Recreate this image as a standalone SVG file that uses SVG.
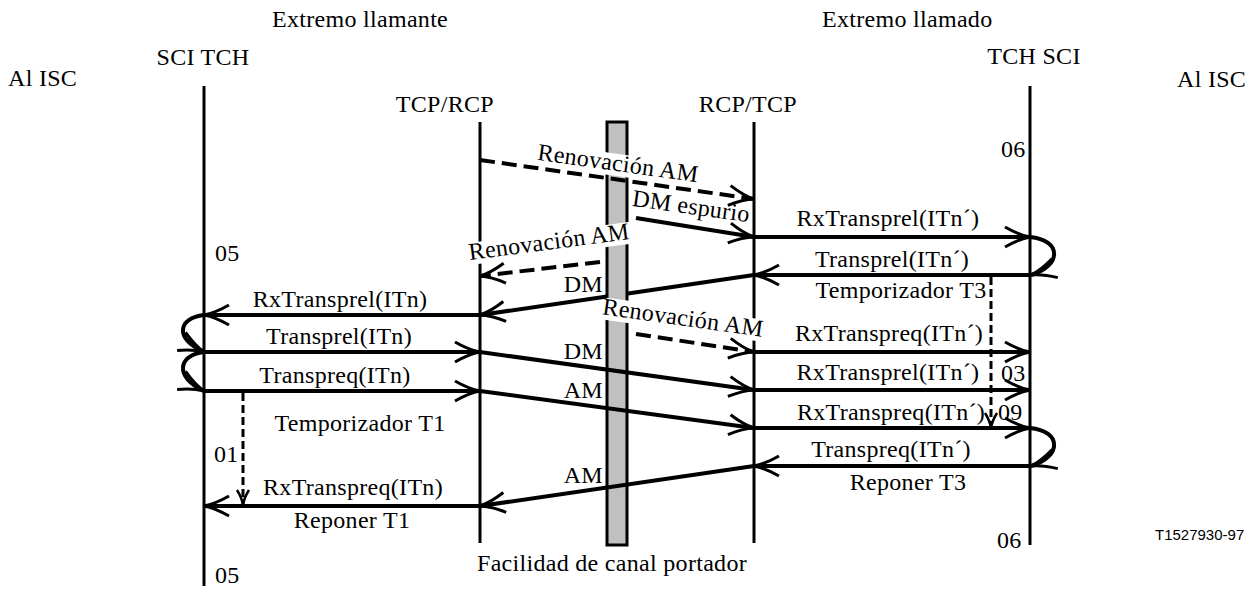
<svg xmlns="http://www.w3.org/2000/svg" width="1256" height="592" viewBox="0 0 1256 592">
<style>
text{font-family:"Liberation Serif","Times New Roman",serif;font-size:24px;letter-spacing:0.3px;fill:#000}
.m{text-anchor:middle}
.e{text-anchor:end}
.life{stroke:#000;stroke-width:3;fill:none}
.msg{stroke:#000;stroke-width:4;fill:none;marker-end:url(#ah)}
.dash{stroke-dasharray:15 7}
.tmr{stroke:#000;stroke-width:3;fill:none;stroke-dasharray:8 4;marker-end:url(#sh)}
.bg{fill:#fff}
.code{font-family:"Liberation Sans",Arial,sans-serif;font-size:15px;letter-spacing:0}
</style>
<defs>
<marker id="ah" markerUnits="userSpaceOnUse" markerWidth="30" markerHeight="26" viewBox="0 0 30 26" refX="27" refY="13" orient="auto">
<path d="M2,3 Q16,11 27,13 Q16,15 2,23" fill="none" stroke="#000" stroke-width="3"/>
</marker>
<marker id="sh" markerUnits="userSpaceOnUse" markerWidth="20" markerHeight="16" viewBox="0 0 20 16" refX="17" refY="8" orient="auto">
<path d="M2,2 Q10,7 17,8 Q10,9 2,14" fill="none" stroke="#000" stroke-width="2.5"/>
</marker>
</defs>

<g id="headers">
<text x="272" y="27">Extremo llamante</text>
<text x="822" y="27">Extremo llamado</text>
<text x="8" y="86">Al ISC</text>
<text x="1177" y="87">Al ISC</text>
</g>

<g id="sci-tch-left">
<line class="life" x1="204" y1="86" x2="204" y2="586"/>
<text class="m" x="203" y="65">SCI TCH</text>
</g>
<g id="tcp-rcp">
<line class="life" x1="480" y1="122" x2="480" y2="543"/>
<text class="e" x="494" y="112">TCP/RCP</text>
</g>
<g id="rcp-tcp">
<line class="life" x1="754" y1="122" x2="754" y2="543"/>
<text class="e" x="797" y="112">RCP/TCP</text>
</g>
<g id="tch-sci-right">
<line class="life" x1="1030" y1="86" x2="1030" y2="545"/>
<text class="m" x="1034" y="64">TCH SCI</text>
</g>
<g id="bearer">
<rect x="607" y="122" width="20" height="423" fill="#c0c0c0" stroke="#000" stroke-width="3"/>
<text x="477" y="571">Facilidad de canal portador</text>
</g>

<g id="label-backgrounds">
<rect class="bg" x="-83" y="-17" width="166" height="22" transform="translate(617,171) rotate(8)"/>
<rect class="bg" x="-60" y="-17" width="120" height="21" transform="translate(690,214) rotate(8)"/>
<rect class="bg" x="-83" y="-17" width="166" height="22" transform="translate(550,249.5) rotate(-7.5)"/>
<rect class="bg" x="-83" y="-17" width="166" height="22" transform="translate(682,325.5) rotate(8)"/>
</g>

<g id="connectors">
<line class="msg" x1="480" y1="315" x2="204" y2="315"/>
<line class="msg" x1="204" y1="352" x2="480" y2="352"/>
<line class="msg" x1="204" y1="391" x2="480" y2="391"/>
<line class="msg" x1="480" y1="506" x2="204" y2="506"/>
<path class="msg" d="M204,315 C178,318 174,338 204,352"/>
<path class="msg" d="M204,352 C178,355 174,377 204,391"/>
<line class="tmr" x1="243" y1="393" x2="243" y2="505"/>

<line class="msg dash" x1="480" y1="160" x2="754" y2="199"/>
<line class="msg" x1="636" y1="218" x2="754" y2="237"/>
<line class="msg dash" x1="600" y1="262" x2="480" y2="276"/>
<line stroke="#000" stroke-width="4" x1="754" y1="275" x2="628" y2="293.4"/>
<line class="msg" x1="607" y1="296.5" x2="480" y2="315"/>
<line class="msg dash" x1="636" y1="334" x2="754" y2="352"/>
<line class="msg" x1="480" y1="352" x2="754" y2="390"/>
<line class="msg" x1="480" y1="391" x2="754" y2="428"/>
<line class="msg" x1="754" y1="466" x2="480" y2="506"/>

<line class="msg" x1="754" y1="237" x2="1030" y2="237"/>
<line class="msg" x1="1030" y1="275" x2="754" y2="275"/>
<path class="msg" d="M1030,237 C1062,240 1062,266 1031,275"/>
<line class="tmr" x1="991" y1="277" x2="991" y2="428"/>
<line class="msg" x1="754" y1="352" x2="1030" y2="352"/>
<line class="msg" x1="754" y1="390" x2="1030" y2="390"/>
<line class="msg" x1="754" y1="428" x2="1030" y2="428"/>
<line class="msg" x1="1030" y1="466" x2="754" y2="466"/>
<path class="msg" d="M1030,428 C1062,431 1062,457 1031,466"/>
</g>

<g id="labels">
<text class="m" x="340" y="307">RxTransprel(ITn)</text>
<text class="m" x="339" y="344">Transprel(ITn)</text>
<text class="m" x="335" y="383">Transpreq(ITn)</text>
<text class="m" x="360" y="431">Temporizador T1</text>
<text class="m" x="353" y="495">RxTranspreq(ITn)</text>
<text class="m" x="352" y="528">Reponer T1</text>
<text x="215" y="261">05</text>
<text x="214" y="462">01</text>
<text x="215" y="583">05</text>

<text class="m" transform="translate(617,171) rotate(8)">Renovación AM</text>
<text class="m" transform="translate(690,214) rotate(8)">DM espurio</text>
<text class="m" transform="translate(550,249.5) rotate(-7.5)">Renovación AM</text>
<text class="m" transform="translate(682,325.5) rotate(8)">Renovación AM</text>
<text class="e" x="603" y="292">DM</text>
<text class="e" x="603" y="359">DM</text>
<text class="e" x="603" y="398">AM</text>
<text class="e" x="603" y="483">AM</text>

<text x="1001" y="157">06</text>
<text class="m" x="888" y="226">RxTransprel(ITn´)</text>
<text class="m" x="892" y="267">Transprel(ITn´)</text>
<text class="m" x="901" y="298">Temporizador T3</text>
<text class="m" x="889" y="341">RxTranspreq(ITn´)</text>
<text class="m" x="888" y="380">RxTransprel(ITn´)</text>
<text x="1001" y="381">03</text>
<text class="m" x="891" y="420">RxTranspreq(ITn´)</text>
<text x="998" y="420">09</text>
<text class="m" x="891" y="457">Transpreq(ITn´)</text>
<text class="m" x="908" y="490">Reponer T3</text>
<text x="997" y="548">06</text>
<text class="code" x="1155" y="540">T1527930-97</text>
</g>
</svg>
